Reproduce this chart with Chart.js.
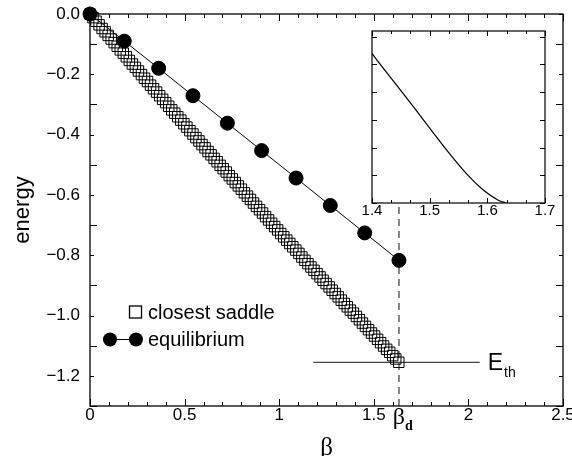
<!DOCTYPE html>
<html><head><meta charset="utf-8">
<script src="https://cdn.jsdelivr.net/npm/chart.js@4.4.1/dist/chart.umd.min.js"></script>
<style>
html,body{margin:0;padding:0;background:#fff}
#wrap{position:relative;width:572px;height:456px;overflow:hidden}
#main{position:absolute;left:0;top:0}
#inset{position:absolute;left:345px;top:20px}
</style></head><body>
<div id="wrap"><canvas id="main" width="572" height="456"></canvas><canvas id="inset" width="215" height="210"></canvas></div>
<script>
// ---- data ----
const saddleBeta = [0,0.016,0.032,0.048,0.064,0.080,0.096,0.112,0.128,0.144,
0.160,0.176,0.192,0.208,0.224,0.240,0.256,0.272,0.288,0.304,
0.320,0.336,0.352,0.368,0.384,0.400,0.416,0.432,0.448,0.464,
0.480,0.496,0.512,0.528,0.544,0.560,0.576,0.592,0.608,0.624,
0.640,0.656,0.672,0.688,0.704,0.720,0.736,0.752,0.768,0.784,
0.800,0.816,0.832,0.848,0.864,0.880,0.896,0.912,0.928,0.944,
0.960,0.976,0.992,1.008,1.024,1.040,1.056,1.072,1.088,1.104,
1.120,1.136,1.152,1.168,1.184,1.200,1.216,1.232,1.248,1.264,
1.280,1.296,1.312,1.328,1.344,1.360,1.376,1.392,1.408,1.424,
1.440,1.456,1.472,1.488,1.504,1.520,1.536,1.552,1.568,1.584,
1.600,1.616,1.632];
const saddleEnergy = [0,-0.012,-0.024,-0.036,-0.048,-0.059,-0.071,-0.083,-0.095,-0.107,
-0.119,-0.130,-0.142,-0.154,-0.166,-0.177,-0.189,-0.201,-0.213,-0.224,
-0.236,-0.248,-0.259,-0.271,-0.283,-0.294,-0.306,-0.318,-0.329,-0.341,
-0.352,-0.364,-0.375,-0.387,-0.398,-0.410,-0.421,-0.433,-0.444,-0.456,
-0.467,-0.479,-0.490,-0.502,-0.513,-0.524,-0.536,-0.547,-0.559,-0.570,
-0.581,-0.593,-0.604,-0.615,-0.627,-0.638,-0.649,-0.660,-0.672,-0.683,
-0.694,-0.705,-0.716,-0.728,-0.739,-0.750,-0.761,-0.772,-0.783,-0.794,
-0.806,-0.817,-0.828,-0.839,-0.850,-0.861,-0.872,-0.883,-0.894,-0.905,
-0.916,-0.927,-0.938,-0.949,-0.960,-0.971,-0.982,-0.992,-1.003,-1.014,
-1.025,-1.036,-1.047,-1.058,-1.068,-1.079,-1.090,-1.101,-1.112,-1.122,
-1.133,-1.144,-1.155];
const eqBeta = [0,0.181,0.363,0.544,0.726,0.907,1.089,1.270,1.452,1.633];
const eqEnergy = [0,-0.090,-0.180,-0.271,-0.362,-0.453,-0.544,-0.635,-0.726,-0.817];
const betaD = 1.633;
const eTh = -1.155;
const eThBeta = [1.18, 2.06];
const dashEnergy = [-1.3, -0.632];
const xTickValues = [0, 0.5, 1, 1.5, 2, 2.5];
const xTickLabels = ['0', '0.5', '1', '1.5', '2', '2.5'];
const yTickValues = [0, -0.2, -0.4, -0.6, -0.8, -1.0, -1.2];
const yTickLabels = ['0.0', '\u22120.2', '\u22120.4', '\u22120.6', '\u22120.8', '\u22121.0', '\u22121.2'];
const insetBeta = [1.400, 1.416, 1.445, 1.474, 1.503, 1.532, 1.561, 1.590, 1.619, 1.633];
const insetValue = [5.39, 4.95, 4.19, 3.41, 2.62, 1.84, 1.12, 0.52, 0.10, 0.0];
const insetXTickValues = [1.4, 1.5, 1.6, 1.7];
const insetXTickLabels = ['1.4', '1.5', '1.6', '1.7'];
const legendLabels = ['closest saddle', 'equilibrium'];

Chart.defaults.font.family = "'Liberation Sans', Arial, sans-serif";
Chart.defaults.color = '#000';

function drawFrame(chart, o) {
  const {ctx, chartArea: {left, right, top, bottom}, scales: {x, y}} = chart;
  ctx.save();
  ctx.strokeStyle = '#000';
  ctx.lineWidth = 1;
  ctx.beginPath();
  const vt = (v, len) => {
    const p = Math.round(x.getPixelForValue(v)) + 0.5;
    ctx.moveTo(p, bottom); ctx.lineTo(p, bottom - len);
    ctx.moveTo(p, top); ctx.lineTo(p, top + len);
  };
  const ht = (v, len) => {
    const p = Math.round(y.getPixelForValue(v)) + 0.5;
    ctx.moveTo(left, p); ctx.lineTo(left + len, p);
    ctx.moveTo(right, p); ctx.lineTo(right - len, p);
  };
  for (let i = 0; i <= o.xN; i++) {
    const v = o.xMin + i * o.xStep;
    vt(v, i % o.xEvery === 0 ? o.maj : o.min);
  }
  for (let i = 0; i <= o.yN; i++) {
    const v = o.yMin + i * o.yStep;
    ht(v, i % o.yEvery === 0 ? o.maj : o.min);
  }
  ctx.stroke();
  ctx.lineWidth = o.lw;
  ctx.strokeRect(left, top, right - left, bottom - top);
  ctx.restore();
}

const mainFrame = {
  id: 'mainFrame',
  afterDatasetsDraw(chart) {
    drawFrame(chart, {xMin: 0, xStep: 0.1, xN: 25, xEvery: 5, yMin: -1.3, yStep: 0.1, yN: 13, yEvery: 2, maj: 7, min: 4, lw: 1.3});
    const {ctx, scales: {x, y}} = chart;
    ctx.save();
    ctx.fillStyle = '#000'; ctx.strokeStyle = '#000';
    // legend
    ctx.lineWidth = 1.3;
    ctx.strokeRect(129.5, 306, 12, 12);
    ctx.lineWidth = 1;
    ctx.beginPath(); ctx.moveTo(110, 339.5); ctx.lineTo(136, 339.5); ctx.stroke();
    ctx.beginPath(); ctx.arc(110, 339.5, 7, 0, Math.PI * 2); ctx.fill();
    ctx.beginPath(); ctx.arc(136, 339.5, 7, 0, Math.PI * 2); ctx.fill();
    ctx.font = "20px 'Liberation Sans', Arial, sans-serif";
    ctx.textBaseline = 'alphabetic'; ctx.textAlign = 'left';
    ctx.fillText(legendLabels[0], 148, 319);
    ctx.fillText(legendLabels[1], 148, 346);
    // E_th label
    const ey = y.getPixelForValue(eTh);
    const ex = x.getPixelForValue(eThBeta[1]) + 8;
    ctx.font = "23px 'Liberation Sans', Arial, sans-serif";
    ctx.fillText('E', ex, ey + 8);
    const ew = ctx.measureText('E').width;
    ctx.font = "14px 'Liberation Sans', Arial, sans-serif";
    ctx.fillText('th', ex + ew + 1, ey + 15);
    // beta_d label
    const bx = x.getPixelForValue(betaD);
    ctx.font = "24px 'Liberation Serif', 'DejaVu Serif', serif";
    ctx.textAlign = 'right';
    ctx.fillText('\u03B2', bx + 6, 424);
    ctx.textAlign = 'left';
    ctx.font = "bold 14px 'Liberation Serif', 'DejaVu Serif', serif";
    ctx.fillText('d', bx + 6, 430);
    ctx.restore();
  }
};

const pts = (xs, ys) => xs.map((v, i) => ({x: v, y: ys[i]}));

new Chart(document.getElementById('main'), {
  type: 'scatter',
  data: {
    datasets: [
      {label: 'closest saddle', data: pts(saddleBeta, saddleEnergy), pointStyle: 'rect', pointRadius: 7.4,
       borderColor: '#000', backgroundColor: 'rgba(0,0,0,0)', borderWidth: 1, showLine: false, clip: false, order: 1},
      {label: 'equilibrium', data: pts(eqBeta, eqEnergy), pointStyle: 'circle', pointRadius: 7,
       borderColor: '#000', backgroundColor: '#000', pointBackgroundColor: '#000', borderWidth: 1, showLine: true, clip: false, order: 0},
      {label: 'Eth', data: pts(eThBeta, [eTh, eTh]), pointRadius: 0, borderColor: '#444', borderWidth: 1.3, showLine: true, order: 2},
      {label: 'betaD', data: pts([betaD, betaD], dashEnergy), pointRadius: 0, borderColor: '#444', borderWidth: 1.3,
       borderDash: [7, 5], showLine: true, clip: false, order: 3}
    ]
  },
  options: {
    responsive: false, animation: false, devicePixelRatio: 1,
    layout: {padding: {left: 0, top: 14, right: 9, bottom: 0}},
    plugins: {legend: {display: false}, tooltip: {enabled: false}},
    scales: {
      x: {
        type: 'linear', min: 0, max: 2.5,
        grid: {display: false, drawTicks: false}, border: {display: false},
        afterBuildTicks: s => { s.ticks = xTickValues.map(v => ({value: v})); },
        ticks: {font: {size: 17}, padding: -1, maxRotation: 0, autoSkip: false,
                callback: (v) => xTickLabels[xTickValues.indexOf(v)]},
        title: {display: true, text: '\u03B2', font: {size: 25, family: "'Liberation Serif', 'DejaVu Serif', serif", lineHeight: 0.6}, padding: {top: 0, bottom: 0}},
        afterFit: s => { s.height = 50; s.paddingLeft = 0; s.paddingRight = 0; }
      },
      y: {
        type: 'linear', min: -1.3, max: 0,
        grid: {display: false, drawTicks: false}, border: {display: false},
        afterBuildTicks: s => { s.ticks = yTickValues.map(v => ({value: v})); },
        ticks: {font: {size: 17}, padding: 10, autoSkip: false,
                callback: (v) => yTickLabels[yTickValues.findIndex(t => Math.abs(t - v) < 1e-9)]},
        title: {display: true, text: 'energy', font: {size: 22}, padding: {top: 10, bottom: 0}},
        afterFit: s => { s.width = 90; s.paddingTop = 0; s.paddingBottom = 0; }
      }
    }
  },
  plugins: [mainFrame]
});

const insetFrame = {
  id: 'insetFrame',
  afterDatasetsDraw(chart) {
    drawFrame(chart, {xMin: 1.4, xStep: 0.1 / 3, xN: 9, xEvery: 3, yMin: 0, yStep: 1, yN: 6, yEvery: 1, maj: 5, min: 3, lw: 1.2});
  }
};

new Chart(document.getElementById('inset'), {
  type: 'scatter',
  data: {
    datasets: [
      {data: pts(insetBeta, insetValue), showLine: true, pointRadius: 0, borderColor: '#000', borderWidth: 1.2,
       cubicInterpolationMode: 'monotone'}
    ]
  },
  options: {
    responsive: false, animation: false, devicePixelRatio: 1,
    layout: {padding: {left: 27, top: 11, right: 15, bottom: 0}},
    plugins: {legend: {display: false}, tooltip: {enabled: false}},
    scales: {
      x: {
        type: 'linear', min: 1.4, max: 1.7,
        grid: {display: false, drawTicks: false}, border: {display: false},
        afterBuildTicks: s => { s.ticks = insetXTickValues.map(v => ({value: v})); },
        ticks: {font: {size: 15}, padding: -1, maxRotation: 0, autoSkip: false,
                callback: (v) => insetXTickLabels[insetXTickValues.findIndex(t => Math.abs(t - v) < 1e-9)]},
        afterFit: s => { s.height = 27; s.paddingLeft = 0; s.paddingRight = 0; }
      },
      y: {
        type: 'linear', min: 0, max: 6.2, display: false
      }
    }
  },
  plugins: [insetFrame]
});
</script>
</body></html>
